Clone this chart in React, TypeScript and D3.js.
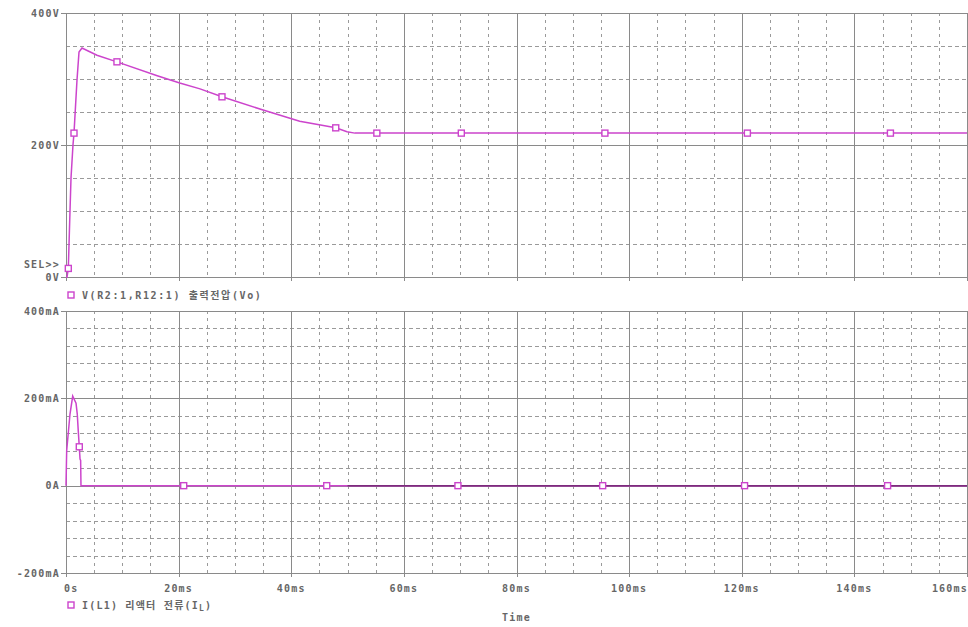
import React from "react";
import * as d3 from "d3";

// ---- data ----
const vTimeMs = [0, 0.18, 0.41, 0.71, 0.89, 1.24, 1.42, 1.95, 2.31, 2.84, 5.5, 9.05, 16.2, 20.2, 23.8, 27.7, 35, 41.5, 47.9, 49.9, 51.3, 55, 60, 80, 100, 120, 140, 160];
const vVolts = [0, 0, 13, 100, 150, 200, 218, 298, 341, 347, 336, 326, 305, 294, 285, 273, 253, 236, 226, 220, 218, 218, 218, 218, 218, 218, 218, 218];
const vMarkerTimeMs = [0.41, 1.42, 9.05, 27.7, 47.9, 55.2, 70.2, 95.7, 121, 146.4];
const vMarkerVolts = [13, 218, 326, 273, 226, 218, 218, 218, 218, 218];

const iTimeMs = [0, 0.12, 0.71, 1.19, 1.78, 2.0, 2.18, 2.36, 2.49, 2.6, 2.66, 160];
const iMilliAmps = [0, 80, 164, 205, 189, 164, 125, 89, 61, 58, 0, 0];
const iMarkerTimeMs = [2.36, 20.9, 46.3, 69.6, 95.3, 120.5, 145.9];
const iMarkerMilliAmps = [89, 0, 0, 0, 0, 0, 0];

const xTickValues = [0, 20, 40, 60, 80, 100, 120, 140, 160];
const xTickLabels = ["0s", "20ms", "40ms", "60ms", "80ms", "100ms", "120ms", "140ms", "160ms"];
const vTickValues = [0, 200, 400];
const vTickLabels = ["0V", "200V", "400V"];
const iTickValues = [-200, 0, 200, 400];
const iTickLabels = ["-200mA", "0A", "200mA", "400mA"];

const vLegend = "V(R2:1,R12:1)  출력전압(Vo)";
const iLegendMain = "I(L1) 리액터 전류(I";
const iLegendSub = "L";
const xAxisTitle = "Time";
const selLabel = "SEL>>";
const overlapFromMs = 50;

// ---- layout ----
const W = 968;
const H = 627;
const left = 66;
const right = 967;
const topPlot = { top: 13, bottom: 277 };
const botPlot = { top: 311, bottom: 573 };

const TRACE = "#cc44cc";
const TRACE_DARK = "#7d2a7d";
const GRID_SOLID = "#8a8a8a";
const GRID_DASH = "#9a9a9a";
const TEXT = "#666";
const FONT = "'DejaVu Sans Mono', 'Noto Sans CJK KR', monospace";

const x = d3.scaleLinear().domain([0, 160]).range([left, right]);
const yV = d3.scaleLinear().domain([0, 400]).range([topPlot.bottom, topPlot.top]);
const yI = d3.scaleLinear().domain([-200, 400]).range([botPlot.bottom, botPlot.top]);

function Grid({ y, minorStep, majors, domain }: { y: d3.ScaleLinear<number, number>; minorStep: number; majors: number[]; domain: [number, number] }) {
  const [y0, y1] = domain;
  const hMinor = d3.range(y0, y1 + 0.001, minorStep).filter((v) => !majors.some((m) => Math.abs(m - v) < 1e-6));
  const vMinor = d3.range(0, 160.001, 5).filter((v) => v % 20 !== 0);
  const vMajor = xTickValues;
  const ya = y(y1);
  const yb = y(y0);
  return (
    <g>
      {hMinor.map((v) => (
        <line key={"hm" + v} x1={left} x2={right} y1={Math.round(y(v)) + 0.5} y2={Math.round(y(v)) + 0.5} stroke={GRID_DASH} strokeDasharray="4,3" />
      ))}
      {vMinor.map((t) => (
        <line key={"vm" + t} x1={Math.round(x(t)) + 0.5} x2={Math.round(x(t)) + 0.5} y1={ya} y2={yb} stroke={GRID_DASH} strokeDasharray="3,4" />
      ))}
      {majors.map((v) => (
        <line key={"hM" + v} x1={left - 5} x2={right} y1={Math.round(y(v)) + 0.5} y2={Math.round(y(v)) + 0.5} stroke={GRID_SOLID} />
      ))}
      {vMajor.map((t) => (
        <line key={"vM" + t} x1={Math.round(x(t)) + 0.5} x2={Math.round(x(t)) + 0.5} y1={ya} y2={yb + 4} stroke={GRID_SOLID} />
      ))}
    </g>
  );
}

function Markers({ times, values, y }: { times: number[]; values: number[]; y: d3.ScaleLinear<number, number> }) {
  return (
    <g>
      {times.map((t, i) => (
        <rect key={i} x={x(t) - 3} y={y(values[i]) - 3} width={6} height={6} fill="#fff" stroke={TRACE} strokeWidth={1.4} />
      ))}
    </g>
  );
}

export default function App() {
  const vLine = d3.line<number>().x((_, i) => x(vTimeMs[i])).y((d) => yV(d))(vVolts) || "";
  const iLine = d3.line<number>().x((_, i) => x(iTimeMs[i])).y((d) => yI(d))(iMilliAmps) || "";
  const iDark = d3.line<number>().x((d) => x(d)).y(() => yI(0))([overlapFromMs, 160]) || "";

  const textStyle: React.CSSProperties = { fontFamily: FONT, fontSize: 10, fontWeight: "bold", letterSpacing: 1.2 };

  return (
    <svg width={W} height={H} style={{ position: "absolute", left: 0, top: 0, background: "#fff" }}>
      <rect x={0} y={0} width={W} height={H} fill="#fff" />
      {/* top plot */}
      <Grid y={yV} minorStep={50} majors={vTickValues} domain={[0, 400]} />
      {vTickValues.map((v, i) => (
        <text key={"vt" + v} x={60} y={yV(v) + 3.5} textAnchor="end" fill={TEXT} style={textStyle}>
          {vTickLabels[i]}
        </text>
      ))}
      <text x={60} y={268} textAnchor="end" fill={TEXT} style={textStyle}>{selLabel}</text>
      <path d={vLine} fill="none" stroke={TRACE} strokeWidth={1.5} />
      <Markers times={vMarkerTimeMs} values={vMarkerVolts} y={yV} />
      <rect x={68} y={292} width={6} height={6} fill="#fff" stroke={TRACE} strokeWidth={1.4} />
      <text x={82} y={299} fill={TEXT} style={{ ...textStyle, letterSpacing: 1.6 }}>{vLegend}</text>

      {/* bottom plot */}
      <Grid y={yI} minorStep={40} majors={iTickValues} domain={[-200, 400]} />
      {iTickValues.map((v, i) => (
        <text key={"it" + v} x={60} y={yI(v) + 3.5} textAnchor="end" fill={TEXT} style={textStyle}>
          {iTickLabels[i]}
        </text>
      ))}
      <path d={iLine} fill="none" stroke={TRACE} strokeWidth={1.5} />
      <path d={iDark} fill="none" stroke={TRACE_DARK} strokeWidth={1.5} />
      <Markers times={iMarkerTimeMs} values={iMarkerMilliAmps} y={yI} />

      {/* x axis labels */}
      {xTickValues.map((t, i) => (
        <text
          key={"xt" + t}
          x={i === 0 ? x(t) - 2 : i === xTickValues.length - 1 ? x(t) + 1 : x(t)}
          y={592}
          textAnchor={i === 0 ? "start" : i === xTickValues.length - 1 ? "end" : "middle"}
          fill={TEXT}
          style={textStyle}
        >
          {xTickLabels[i]}
        </text>
      ))}
      <rect x={68} y={602} width={6} height={6} fill="#fff" stroke={TRACE} strokeWidth={1.4} />
      <text x={82} y={609} fill={TEXT} style={textStyle}>
        {iLegendMain}
        <tspan fontSize={8} dy={2}>{iLegendSub}</tspan>
        <tspan dy={-2}>)</tspan>
      </text>
      <text x={(left + right) / 2} y={621} textAnchor="middle" fill={TEXT} style={textStyle}>{xAxisTitle}</text>
    </svg>
  );
}
